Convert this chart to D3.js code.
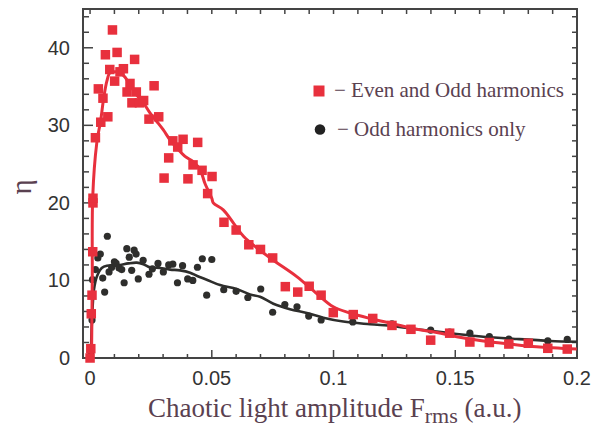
<!DOCTYPE html>
<html>
<head>
<meta charset="utf-8">
<script src="https://cdnjs.cloudflare.com/ajax/libs/d3/7.8.5/d3.min.js"></script>
<style>
  body { margin: 0; background: #fff; }
  svg { display: block; }
</style>
</head>
<body>
<div id="chart"></div>
<script>
// red squares: even and odd harmonics
var evenOddX = [0, 0.0003, 0.0005, 0.0008, 0.0011, 0.0012, 0.0012, 0.0022, 0.0034, 0.0044,
  0.0053, 0.0063, 0.0073, 0.0081, 0.0092, 0.0101, 0.0111, 0.0123, 0.0137, 0.0152,
  0.0164, 0.0172, 0.0183, 0.019, 0.0203, 0.022, 0.0242, 0.0263, 0.0282, 0.0304,
  0.0323, 0.034, 0.036, 0.0382, 0.0402, 0.0423, 0.0442, 0.046, 0.0483, 0.0501,
  0.055, 0.060, 0.0652, 0.070, 0.075, 0.0802, 0.0853, 0.090, 0.0949, 0.0999,
  0.1081, 0.1161, 0.124, 0.1318, 0.1399, 0.1477, 0.156, 0.164, 0.172, 0.180, 0.188, 0.196];
var evenOddY = [0, 1.2, 5.7, 8.1, 13.7, 20.0, 20.6, 28.4, 34.7, 30.4,
  33.5, 39.1, 31.1, 37.2, 42.3, 35.7, 39.4, 36.9, 37.3, 34.3,
  35.4, 32.9, 38.5, 34.3, 32.9, 33.2, 30.8, 35.1, 31.1, 23.2,
  25.8, 28.0, 27.2, 28.2, 23.1, 24.9, 27.8, 24.2, 21.2, 23.4,
  17.5, 16.5, 14.6, 14.0, 12.9, 9.2, 8.5, 9.25, 8.1, 5.85,
  5.6, 5.1, 4.2, 3.7, 2.3, 3.2, 2.06, 2.0, 1.8, 1.9, 1.25, 1.15];

// black dots: odd harmonics only
var oddX = [0, 0.0003, 0.0008, 0.001, 0.0022, 0.0032, 0.0042, 0.0052, 0.006, 0.0071,
  0.0078, 0.0089, 0.0100, 0.0107, 0.0119, 0.013, 0.014, 0.0151, 0.0161, 0.0171,
  0.0181, 0.0189, 0.0198, 0.0218, 0.0242, 0.0256, 0.0279, 0.0301, 0.0323, 0.034,
  0.0359, 0.038, 0.0401, 0.0422, 0.0441, 0.0461, 0.0479, 0.050, 0.0549, 0.060,
  0.0648, 0.0701, 0.075, 0.080, 0.085, 0.0898, 0.0949, 0.1079, 0.124, 0.1318,
  0.1399, 0.1477, 0.156, 0.164, 0.172, 0.188, 0.196];
var oddY = [0, 0.8, 4.9, 10.1, 11.4, 12.9, 13.4, 10.3, 8.5, 15.7,
  11.1, 11.7, 12.4, 12.2, 11.6, 11.4, 9.7, 14.1, 13.0, 11.3,
  13.9, 13.4, 10.2, 12.6, 10.8, 11.5, 12.2, 11.1, 12.0, 12.1,
  9.7, 11.9, 10.2, 10.0, 11.7, 12.8, 8.1, 12.7, 8.8, 8.6,
  7.8, 8.9, 5.9, 6.9, 6.6, 5.4, 4.9, 4.65, 4.4, 3.8,
  3.6, 3.35, 3.2, 2.75, 2.45, 2.2, 2.4];

// fitted curves
var evenOddFitX = [0.0006, 0.0009, 0.0011, 0.00275, 0.0044, 0.0055, 0.0069, 0.0082, 0.0103, 0.0123,
  0.0144, 0.0164, 0.0192, 0.0219, 0.0246, 0.0274, 0.0301, 0.0329, 0.0356, 0.039,
  0.0424, 0.0452, 0.0472, 0.050, 0.0506, 0.0547, 0.0589, 0.063, 0.0685, 0.0753,
  0.0849, 0.0931, 0.0999, 0.1068, 0.115, 0.1246, 0.1342, 0.1424, 0.1506, 0.1615,
  0.1725, 0.1834, 0.1999];
var evenOddFitY = [0, 10, 20.8, 27.7, 30.7, 33.3, 35.7, 36.8, 36.9, 36.8,
  36.2, 35.2, 33.9, 32.9, 31.6, 30.5, 29.4, 28.1, 27.1, 26.0,
  25.3, 24.3, 22.5, 20.6, 20.0, 19.1, 17.4, 15.7, 14.2, 12.6,
  10.5, 8.3, 6.6, 5.8, 5.1, 4.4, 3.7, 3.3, 2.75, 2.2,
  1.8, 1.45, 1.15];
var oddFitX = [0.0003, 0.0008, 0.0016, 0.0028, 0.0048, 0.0069, 0.0096, 0.0123, 0.0157, 0.0192,
  0.0219, 0.0246, 0.0287, 0.0329, 0.037, 0.0411, 0.0438, 0.0479, 0.0534, 0.0602,
  0.0657, 0.0698, 0.0753, 0.0821, 0.089, 0.0958, 0.104, 0.115, 0.1246, 0.1342,
  0.1424, 0.1506, 0.1615, 0.1752, 0.1889, 0.1999];
var oddFitY = [0.17, 4.9, 8.8, 10.5, 11.6, 11.9, 11.9, 12.0, 12.2, 12.3,
  12.1, 11.7, 11.6, 11.4, 11.3, 11.0, 10.6, 10.1, 9.4, 8.9,
  8.2, 7.9, 7.0, 6.3, 5.8, 5.2, 4.7, 4.35, 4.1, 3.7,
  3.4, 3.1, 2.75, 2.45, 2.2, 2.1];

var xTicks = [0, 0.05, 0.1, 0.15, 0.2];
var yTicks = [0, 10, 20, 30, 40];
var legendLabels = ["\u2212 Even and Odd harmonics", "\u2212 Odd harmonics only"];

var width = 594, height = 428;
var red = "#e8303d", dark = "#2e2e2c", frame = "#444", textCol = "#5a4150";

var svg = d3.select("#chart")
  .append("svg")
  .attr("width", width)
  .attr("height", height);

var x = d3.scaleLinear().domain([-0.0029, 0.2]).range([83, 577]);
var y = d3.scaleLinear().domain([0, 45]).range([358, 9]);

// frame
svg.append("rect")
  .attr("x", 83).attr("y", 9)
  .attr("width", 577 - 83).attr("height", 358 - 9)
  .attr("fill", "none").attr("stroke", frame).attr("stroke-width", 2);

var xMinor = d3.range(0, 0.2001, 0.01);
var yMinor = d3.range(0, 45.01, 2);

// bottom ticks (inside)
svg.append("g").selectAll("line")
  .data(xMinor).enter().append("line")
  .attr("x1", function(d) { return x(d); })
  .attr("x2", function(d) { return x(d); })
  .attr("y1", 358)
  .attr("y2", function(d, i) { return i % 5 == 0 ? 350 : 354; })
  .attr("stroke", frame).attr("stroke-width", 1.5);
// top ticks
svg.append("g").selectAll("line")
  .data(xMinor).enter().append("line")
  .attr("x1", function(d) { return x(d); })
  .attr("x2", function(d) { return x(d); })
  .attr("y1", 9)
  .attr("y2", 14)
  .attr("stroke", frame).attr("stroke-width", 1.5);
// left ticks
svg.append("g").selectAll("line")
  .data(yMinor).enter().append("line")
  .attr("x1", 83)
  .attr("x2", function(d) { return d % 10 == 0 ? 93 : 89; })
  .attr("y1", function(d) { return y(d); })
  .attr("y2", function(d) { return y(d); })
  .attr("stroke", frame).attr("stroke-width", 1.5);
// right ticks
svg.append("g").selectAll("line")
  .data(yMinor).enter().append("line")
  .attr("x1", 577)
  .attr("x2", 572)
  .attr("y1", function(d) { return y(d); })
  .attr("y2", function(d) { return y(d); })
  .attr("stroke", frame).attr("stroke-width", 1.5);

// tick labels
svg.append("g").selectAll("text")
  .data(xTicks).enter().append("text")
  .attr("x", function(d) { return x(d); })
  .attr("y", 385)
  .attr("text-anchor", "middle")
  .attr("font-family", "Liberation Sans, Arial, sans-serif")
  .attr("font-size", 20)
  .attr("fill", "#333")
  .text(function(d) { return d3.format("")(d); });
svg.append("g").selectAll("text")
  .data(yTicks).enter().append("text")
  .attr("x", 70)
  .attr("y", function(d) { return y(d) + 7; })
  .attr("text-anchor", "end")
  .attr("font-family", "Liberation Sans, Arial, sans-serif")
  .attr("font-size", 20)
  .attr("fill", "#333")
  .text(function(d) { return d; });

// axis titles
var xt = svg.append("text")
  .attr("x", 148).attr("y", 417)
  .attr("font-family", "Liberation Serif, Times New Roman, serif")
  .attr("font-size", 27)
  .attr("fill", textCol);
xt.append("tspan").text("Chaotic light amplitude F");
xt.append("tspan").attr("dy", 6).attr("font-size", 22).text("rms");
xt.append("tspan").attr("dy", -6).text(" (a.u.)");

svg.append("text")
  .attr("transform", "translate(31,187) rotate(-90)")
  .attr("text-anchor", "middle")
  .attr("font-family", "Liberation Serif, Times New Roman, serif")
  .attr("font-size", 29)
  .attr("fill", textCol)
  .text("\u03b7");

var line = d3.line()
  .x(function(d) { return x(d[0]); })
  .y(function(d) { return y(d[1]); })
  .curve(d3.curveCatmullRom.alpha(0.5));

var oddFit = d3.zip(oddFitX, oddFitY);
var evenOddFit = d3.zip(evenOddFitX, evenOddFitY);

svg.append("path")
  .datum(oddFit)
  .attr("d", line)
  .attr("fill", "none").attr("stroke", dark).attr("stroke-width", 2.6);

svg.append("g").selectAll("circle")
  .data(d3.zip(oddX, oddY)).enter().append("circle")
  .attr("cx", function(d) { return x(d[0]); })
  .attr("cy", function(d) { return y(d[1]); })
  .attr("r", 3.6)
  .attr("fill", dark);

svg.append("path")
  .datum(evenOddFit)
  .attr("d", line)
  .attr("fill", "none").attr("stroke", red).attr("stroke-width", 3);

var sq = 9.5;
svg.append("g").selectAll("rect")
  .data(d3.zip(evenOddX, evenOddY)).enter().append("rect")
  .attr("x", function(d) { return x(d[0]) - sq / 2; })
  .attr("y", function(d) { return y(d[1]) - sq / 2; })
  .attr("width", sq).attr("height", sq)
  .attr("fill", red);

// legend
svg.append("rect")
  .attr("x", 313.5).attr("y", 85.5).attr("width", 11).attr("height", 11)
  .attr("fill", red);
svg.append("circle")
  .attr("cx", 320).attr("cy", 129.5).attr("r", 5.3)
  .attr("fill", "#222");
svg.append("g").selectAll("text")
  .data(legendLabels).enter().append("text")
  .attr("x", function(d, i) { return i == 0 ? 334 : 337; })
  .attr("y", function(d, i) { return i == 0 ? 97 : 136; })
  .attr("font-family", "Liberation Serif, Times New Roman, serif")
  .attr("font-size", 21)
  .attr("fill", textCol)
  .text(function(d) { return d; });
</script>
</body>
</html>
